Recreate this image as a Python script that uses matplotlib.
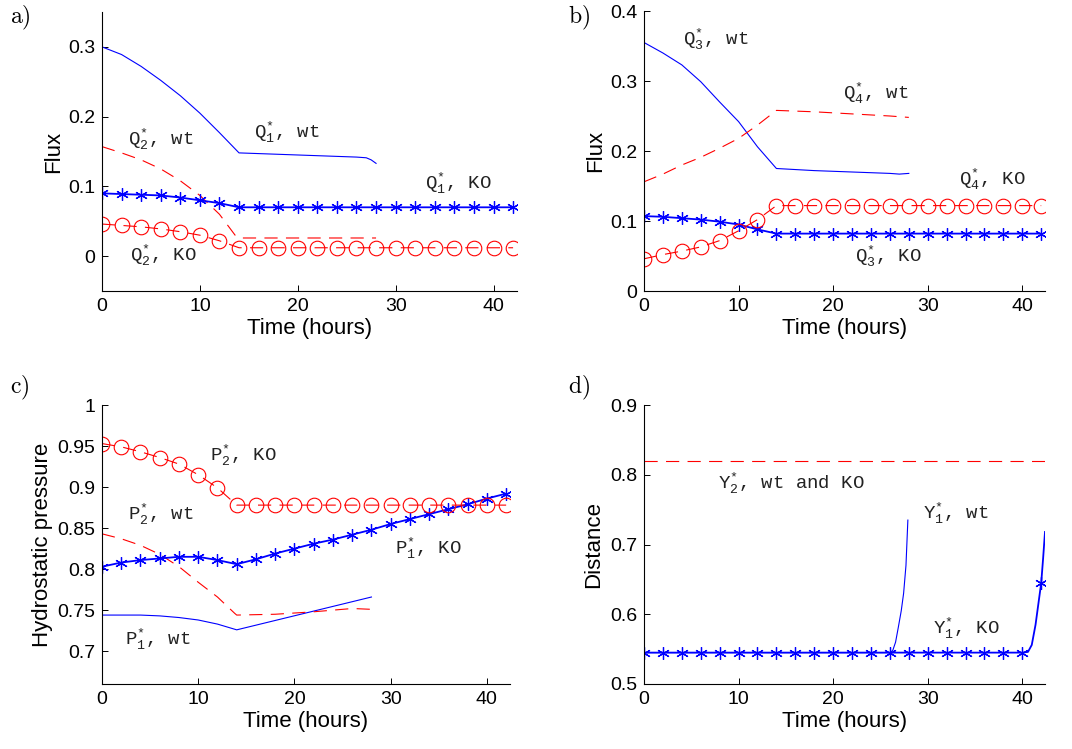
import numpy as np
import matplotlib
matplotlib.use("Agg")
import matplotlib.pyplot as plt
from matplotlib.ticker import FuncFormatter

plt.rcParams['font.family'] = ['Liberation Sans', 'DejaVu Sans']
plt.rcParams['mathtext.fontset'] = 'custom'
plt.rcParams['mathtext.rm'] = 'Liberation Mono'
plt.rcParams['mathtext.it'] = 'Liberation Mono'
plt.rcParams['lines.scale_dashes'] = False

# ---------------- data ----------------
t_ko = list(range(0, 43, 2))

# panel a
a_q1wt_t = [0, 2, 4, 6, 8, 10, 12, 14, 18, 22, 26, 27, 27.5, 28]
a_q1wt = [0.300, 0.289, 0.272, 0.252, 0.230, 0.205, 0.177, 0.148, 0.146, 0.144, 0.142, 0.141, 0.138, 0.133]
a_q2wt_t = [0, 2, 4, 6, 8, 10, 12, 13.6, 14, 28]
a_q2wt = [0.157, 0.148, 0.138, 0.125, 0.108, 0.087, 0.060, 0.030, 0.026, 0.026]
a_q1ko = [0.090, 0.089, 0.088, 0.087, 0.084, 0.080, 0.076, 0.070] + [0.070] * 14
a_q2ko = [0.046, 0.044, 0.042, 0.039, 0.035, 0.030, 0.022, 0.012] + [0.012] * 14

# panel b
b_q3wt_t = [0, 2, 4, 6, 8, 10, 12, 14, 18, 22, 26, 27, 28]
b_q3wt = [0.355, 0.340, 0.323, 0.299, 0.270, 0.242, 0.206, 0.175, 0.172, 0.170, 0.168, 0.167, 0.168]
b_q4wt_t = [0, 2, 4, 6, 8, 10, 12, 14, 18, 22, 26, 28]
b_q4wt = [0.156, 0.167, 0.180, 0.191, 0.204, 0.218, 0.237, 0.258, 0.256, 0.253, 0.250, 0.248]
b_q3ko = [0.107, 0.106, 0.104, 0.102, 0.099, 0.095, 0.088, 0.082] + [0.082] * 14
b_q4ko = [0.046, 0.052, 0.057, 0.063, 0.072, 0.086, 0.102, 0.122] + [0.122] * 14

# panel c
c_p2wt_t = [0, 2, 4, 6, 8, 10, 12, 13.8, 14, 18, 22, 26, 28]
c_p2wt = [0.843, 0.837, 0.829, 0.818, 0.803, 0.784, 0.766, 0.746, 0.744, 0.745, 0.748, 0.752, 0.751]
c_p1wt_t = [0, 4, 6, 8, 10, 12, 14, 28]
c_p1wt = [0.744, 0.744, 0.743, 0.741, 0.738, 0.733, 0.726, 0.766]
c_p2ko = [0.953, 0.949, 0.943, 0.936, 0.928, 0.915, 0.899, 0.878] + [0.878] * 14
c_p1ko = [0.803, 0.808, 0.811, 0.813, 0.815, 0.815, 0.811, 0.806, 0.812, 0.819, 0.825,
          0.831, 0.836, 0.842, 0.848, 0.855, 0.861, 0.867, 0.873, 0.879, 0.886, 0.892]

# panel d
d_y2_t = [0, 42.4]
d_y2 = [0.82, 0.82]
d_y1wt_t = [0, 26.0, 26.3, 26.6, 26.9, 27.2, 27.45, 27.7, 27.9]
d_y1wt = [0.545, 0.545, 0.548, 0.560, 0.582, 0.605, 0.630, 0.670, 0.735]
d_y1ko_t = t_ko[:-1] + [40.6, 41.0, 41.4, 41.7, 42.0, 42.2, 42.4]
d_y1ko = [0.545] * 21 + [0.546, 0.556, 0.585, 0.615, 0.645, 0.680, 0.718]

panel_letters = ['a', 'b', 'c', 'd']

# ---------------- style ----------------
BLUE = (0, 0, 1)
RED = (1, 0, 0)
STAR = (6, 2, 0)
DASH = (9.5, 6)
THIN = 0.8
KOLW = 1.3
MS_STAR = 9
MS_CIRC = 10.5
RP = chr(41)
LABFS = 16
TICKFS = 14
TXTFS = 13.7

fig = plt.figure(figsize=(10.72, 7.49), dpi=100)
W, H = 1072, 749


def make_ax(left, top, right, bottom):
    return fig.add_axes([left / W, 1 - bottom / H, (right - left) / W, (bottom - top) / H])


axa = make_ax(102, 12, 517, 291)
axb = make_ax(644, 11, 1045, 291)
axc = make_ax(102, 405, 510, 684)
axd = make_ax(644, 405, 1045, 684)

fmt = FuncFormatter(lambda v, p: '%g' % round(v, 6))
for ax in (axa, axb, axc, axd):
    ax.spines['top'].set_visible(False)
    ax.spines['right'].set_visible(False)
    ax.spines['left'].set_linewidth(0.8)
    ax.spines['bottom'].set_linewidth(0.8)
    ax.tick_params(direction='in', length=4, width=0.7, labelsize=TICKFS, pad=5)
    ax.set_xlim(0, 42.4)
    ax.set_xticks([0, 10, 20, 30, 40])
    ax.yaxis.set_major_formatter(fmt)
    ax.set_xlabel('Time (hours)', fontsize=LABFS, labelpad=2)
    ax.set_facecolor('none')


def ko_circ(ax, t, y):
    ax.plot(t, y, linestyle='--', dashes=DASH, color=RED, lw=THIN, marker='o', ms=MS_CIRC,
            mfc='none', mec=RED, mew=0.8)


def ko_star(ax, t, y, markevery=None):
    ax.plot(t, y, '-', color=BLUE, lw=KOLW, marker=STAR, ms=MS_STAR, mec=BLUE, mew=0.9,
            markevery=markevery)


def lab(ax, x, y, s):
    ax.text(x, y, s, fontsize=TXTFS, family='Liberation Mono', color='#222222', va='baseline', ha='left')


def sym(letter, idx):
    return r'$\mathrm{' + letter + r'}^{*}_{' + str(idx) + r'}$'


# panel a
axa.plot(a_q1wt_t, a_q1wt, '-', color=BLUE, lw=THIN)
axa.plot(a_q2wt_t, a_q2wt, '--', dashes=DASH, color=RED, lw=THIN)
ko_star(axa, t_ko, a_q1ko)
ko_circ(axa, t_ko, a_q2ko)
axa.set_ylim(-0.05, 0.35)
axa.set_yticks([0, 0.1, 0.2, 0.3])
axa.set_ylabel('Flux', fontsize=LABFS, labelpad=3)
lab(axa, 15.5, 0.170, sym('Q', 1) + ', wt')
lab(axa, 2.7, 0.159, sym('Q', 2) + ', wt')
lab(axa, 2.85, -0.007, sym('Q', 2) + ', KO')
lab(axa, 33.0, 0.096, sym('Q', 1) + ', KO')

# panel b
axb.plot(b_q3wt_t, b_q3wt, '-', color=BLUE, lw=THIN)
axb.plot(b_q4wt_t, b_q4wt, '--', dashes=DASH, color=RED, lw=THIN)
ko_star(axb, t_ko, b_q3ko)
ko_circ(axb, t_ko, b_q4ko)
axb.set_ylim(0, 0.4)
axb.set_yticks([0, 0.1, 0.2, 0.3, 0.4])
axb.set_ylabel('Flux', fontsize=LABFS, labelpad=3)
lab(axb, 4.1, 0.352, sym('Q', 3) + ', wt')
lab(axb, 21.0, 0.275, sym('Q', 4) + ', wt')
lab(axb, 33.3, 0.152, sym('Q', 4) + ', KO')
lab(axb, 22.3, 0.0415, sym('Q', 3) + ', KO')

# panel c
axc.plot(c_p1wt_t, c_p1wt, '-', color=BLUE, lw=THIN)
axc.plot(c_p2wt_t, c_p2wt, '--', dashes=DASH, color=RED, lw=THIN)
ko_star(axc, t_ko, c_p1ko)
ko_circ(axc, t_ko, c_p2ko)
axc.set_ylim(0.66, 1.0)
axc.set_yticks([0.7, 0.75, 0.8, 0.85, 0.9, 0.95, 1.0])
axc.set_ylabel('Hydrostatic pressure', fontsize=LABFS, labelpad=3)
lab(axc, 11.2, 0.932, sym('P', 2) + ', KO')
lab(axc, 2.7, 0.860, sym('P', 2) + ', wt')
lab(axc, 30.5, 0.818, sym('P', 1) + ', KO')
lab(axc, 2.4, 0.707, sym('P', 1) + ', wt')

# panel d
axd.plot(d_y2_t, d_y2, '--', dashes=DASH, color=RED, lw=THIN)
axd.plot(d_y1wt_t, d_y1wt, '-', color=BLUE, lw=THIN)
mk = [i for i, tt in enumerate(d_y1ko_t) if float(tt).is_integer() and int(tt) % 2 == 0]
ko_star(axd, d_y1ko_t, d_y1ko, markevery=mk)
axd.set_ylim(0.5, 0.9)
axd.set_yticks([0.5, 0.6, 0.7, 0.8, 0.9])
axd.set_ylabel('Distance', fontsize=LABFS, labelpad=4)
lab(axd, 7.8, 0.780, sym('Y', 2) + ', wt and KO')
lab(axd, 29.5, 0.737, sym('Y', 1) + ', wt')
lab(axd, 30.6, 0.572, sym('Y', 1) + ', KO')

# panel letters
letter_px = [10, 568, 10, 568]
letter_py = [23, 23, 393, 393]
for s, x, y in zip(panel_letters, letter_px, letter_py):
    fig.text(x / W, 1 - y / H, r'$\mathrm{' + s + RP + '}$', fontsize=17, math_fontfamily='cm',
             va='baseline', ha='left')

fig.savefig('out.png', dpi=100)
